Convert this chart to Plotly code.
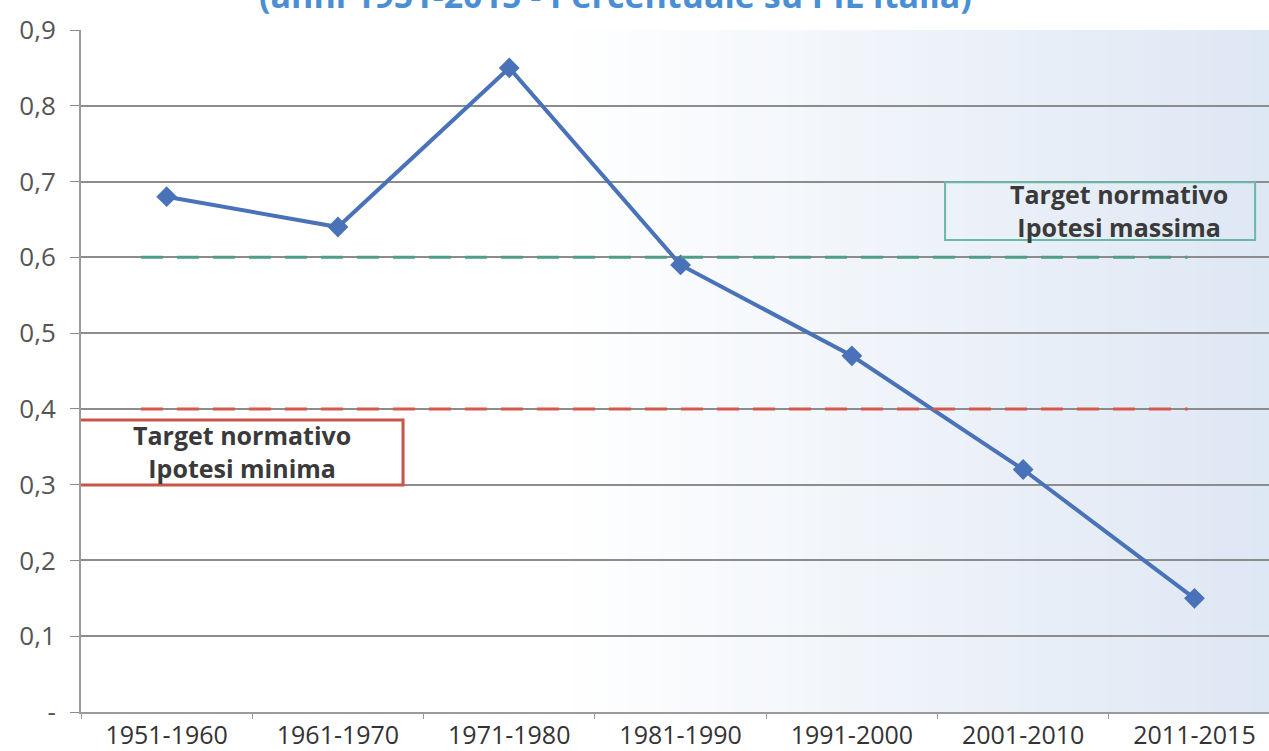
import plotly.graph_objects as go

categories = ["1951-1960", "1961-1970", "1971-1980", "1981-1990", "1991-2000", "2001-2010", "2011-2015"]
values = [0.68, 0.64, 0.85, 0.59, 0.47, 0.32, 0.15]
target_max = 0.6
target_min = 0.4
ytick_vals = [0, 0.1, 0.2, 0.3, 0.4, 0.5, 0.6, 0.7, 0.8, 0.9]
ytick_text = ["-", "0,1", "0,2", "0,3", "0,4", "0,5", "0,6", "0,7", "0,8", "0,9"]
title_text = "(anni 1951-2015 - Percentuale su PIL Italia)"
label_max = "Target normativo<br>Ipotesi massima"
label_min = "Target normativo<br>Ipotesi minima"

fig = go.Figure()

fig.add_trace(go.Scatter(
    x=categories, y=values, mode="lines+markers",
    line=dict(color="#4a72b8", width=4),
    marker=dict(symbol="diamond", size=16, color="#4a72b8"),
    showlegend=False, hoverinfo="skip"))

shapes = []
# background gradient (white -> light blue)
n = 40
x_start = 0.40
for i in range(n):
    t = (i + 0.5) / n
    r = round(255 + (222 - 255) * t)
    g = round(255 + (231 - 255) * t)
    b = round(255 + (244 - 255) * t)
    shapes.append(dict(type="rect", xref="paper", yref="paper",
                       x0=x_start + (1 - x_start) * i / n - 0.001,
                       x1=x_start + (1 - x_start) * (i + 1) / n + 0.001,
                       y0=0, y1=1, fillcolor=f"rgb({r},{g},{b})",
                       line=dict(width=0), layer="below"))
# target lines
shapes.append(dict(type="line", xref="x", yref="y", x0=-0.15, x1=5.96,
                   y0=target_max, y1=target_max,
                   line=dict(color="#4f9d86", width=3, dash="22px,14px")))
shapes.append(dict(type="line", xref="x", yref="y", x0=-0.15, x1=5.96,
                   y0=target_min, y1=target_min,
                   line=dict(color="#d6584c", width=3, dash="22px,14px")))
# label boxes
shapes.append(dict(type="rect", xref="x", yref="y", x0=4.544, x1=6.354, y0=0.623, y1=0.699,
                   line=dict(color="#6bb8a8", width=2), fillcolor="rgba(255,255,255,0)"))
shapes.append(dict(type="rect", xref="x", yref="y", x0=-0.5175, x1=1.38, y0=0.2996, y1=0.3853,
                   line=dict(color="#c9544a", width=3), fillcolor="rgba(255,255,255,0)"))
fig.update_layout(shapes=shapes)

box_font = dict(family="Open Sans", size=25, color="#3a3a3a")
fig.add_annotation(x=5.56, y=0.662, xref="x", yref="y", text="<b>" + label_max + "</b>",
                   showarrow=False, font=box_font, xanchor="center", yanchor="middle",
                   align="center")
fig.add_annotation(x=0.44, y=0.3435, xref="x", yref="y", text="<b>" + label_min + "</b>",
                   showarrow=False, font=box_font, xanchor="center", yanchor="middle",
                   align="center")

fig.add_annotation(x=0.4495, y=1.052, xref="paper", yref="paper",
                   text="<b>" + title_text + "</b>", showarrow=False,
                   font=dict(family="Open Sans", size=34, color="#4a8fd4"),
                   xanchor="center", yanchor="middle")

fig.update_layout(
    width=1269, height=751,
    margin=dict(l=81, r=0, t=30, b=39),
    paper_bgcolor="white", plot_bgcolor="white",
    font=dict(family="Open Sans", color="#444"),
    xaxis=dict(type="category", range=[-0.5, 6.435],
               showgrid=False, showline=True, linecolor="#9a9a9a", linewidth=2,
               ticks="outside", tickson="boundaries", ticklen=5, tickcolor="#9a9a9a",
               tickfont=dict(family="Open Sans", size=25, color="#333")),
    yaxis=dict(range=[0, 0.9], tickvals=ytick_vals, ticktext=ytick_text,
               showgrid=True, gridcolor="#8c8c8c", gridwidth=2,
               showline=True, linecolor="#9a9a9a", linewidth=2,
               ticks="outside", ticklen=9, tickcolor="#8c8c8c",
               ticklabelstandoff=9, zeroline=False,
               tickfont=dict(family="Open Sans", size=26, color="#555")),
)

fig.write_html("out.html", config={"displayModeBar": False},
               post_script="document.body.style.margin='0';")
